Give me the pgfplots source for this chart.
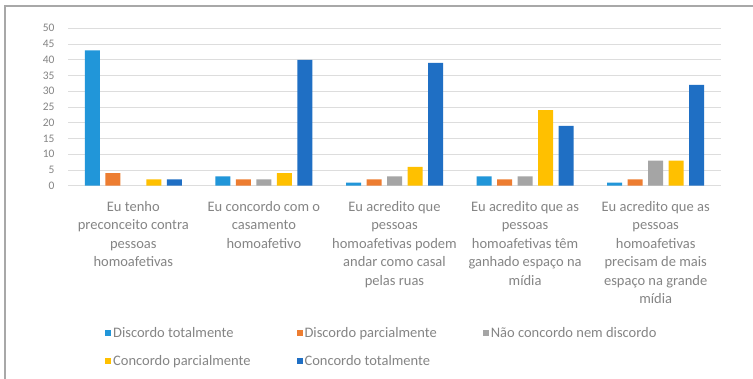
\documentclass[border=0pt]{standalone}
\usepackage{pgfplots}
\pgfplotsset{compat=1.18}
\usepackage{fontspec}
\setmainfont{Carlito}
\definecolor{cA}{HTML}{2196D9}
\definecolor{cB}{HTML}{ED7D31}
\definecolor{cC}{HTML}{A5A5A5}
\definecolor{cD}{HTML}{FFC000}
\definecolor{cE}{HTML}{1F6FC4}
\definecolor{gridc}{HTML}{DDDDDD}
\definecolor{txt}{HTML}{858585}
\definecolor{frame}{HTML}{A8A8A8}
\begin{document}
\begin{tikzpicture}
\useasboundingbox (0,0) rectangle (753pt,379pt);
\fill[white] (0,0) rectangle (753pt,379pt);
\draw[color=frame, line width=1.5pt] (5pt,0) -- (5pt,373pt) -- (753pt,373pt);
\begin{axis}[
  at={(68pt,193.3pt)}, anchor=south west,
  scale only axis, width=653pt, height=157.4pt,
  ybar=5.5pt, bar width=15pt,
  xmin=-0.5, xmax=4.5, ymin=0, ymax=50,
  ytick={0,5,...,50},
  xtick={0,1,2,3,4},
  xticklabels={
    {Eu tenho\\preconceito contra\\pessoas\\homoafetivas},
    {Eu concordo com o\\casamento\\homoafetivo},
    {Eu acredito que\\pessoas\\homoafetivas podem\\andar como casal\\pelas ruas},
    {Eu acredito que as\\pessoas\\homoafetivas têm\\ganhado espaço na\\mídia},
    {Eu acredito que as\\pessoas\\homoafetivas\\precisam de mais\\espaço na grande\\mídia}},
  axis line style={draw=none},
  ymajorgrids, grid style={color=gridc, line width=0.8pt},
  major tick length=0pt,
  /pgf/number format/assume math mode=true,
  yticklabel style={font=\fontsize{11.5}{13}\selectfont, text=txt, anchor=east, xshift=-10pt},
  xticklabel style={font=\fontsize{14.5}{18.5}\selectfont, text=txt, align=center, anchor=north, yshift=-12pt},
  every axis plot post/.append style={legend image code/.code={\fill[##1, draw=none] (0pt,-3pt) rectangle (6pt,3pt);}},
  legend columns=3,
  legend cell align=left,
  legend style={draw=none, fill=none, at={(0.052,-0.872)}, anchor=north west,
    font=\fontsize{14.5}{16}\selectfont, text=txt, row sep=13pt,
    /tikz/every even column/.append style={column sep=44pt}},
]
\addplot[fill=cA, draw=none] coordinates {(0,43) (1,3) (2,1) (3,3) (4,1)};
\addplot[fill=cB, draw=none] coordinates {(0,4) (1,2) (2,2) (3,2) (4,2)};
\addplot[fill=cC, draw=none] coordinates {(1,2) (2,3) (3,3) (4,8)};
\addplot[fill=cD, draw=none] coordinates {(0,2) (1,4) (2,6) (3,24) (4,8)};
\addplot[fill=cE, draw=none] coordinates {(0,2) (1,40) (2,39) (3,19) (4,32)};
\legend{Discordo totalmente, Discordo parcialmente, Não concordo nem discordo, Concordo parcialmente, Concordo totalmente}
\end{axis}
\end{tikzpicture}
\end{document}
